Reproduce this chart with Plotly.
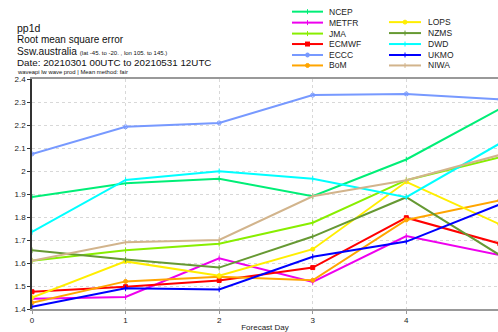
import plotly.graph_objects as go

days = [0, 1, 2, 3, 4, 5]
models = ["NCEP", "METFR", "JMA", "ECMWF", "ECCC", "BoM",
          "LOPS", "NZMS", "DWD", "UKMO", "NIWA"]
ncep  = [1.887, 1.947, 1.966, 1.890, 2.050, 2.270]
metfr = [1.445, 1.452, 1.620, 1.518, 1.717, 1.634]
jma   = [1.610, 1.655, 1.684, 1.775, 1.960, 2.060]
ecmwf = [1.475, 1.497, 1.524, 1.580, 1.797, 1.684]
eccc  = [2.074, 2.192, 2.209, 2.330, 2.335, 2.312]
bom   = [1.427, 1.520, 1.540, 1.525, 1.787, 1.872]
lops  = [1.450, 1.607, 1.545, 1.660, 1.953, 1.768]
nzms  = [1.655, 1.615, 1.580, 1.715, 1.886, 1.634]
dwd   = [1.735, 1.961, 1.999, 1.966, 1.886, 2.120]
ukmo  = [1.410, 1.490, 1.485, 1.627, 1.693, 1.855]
niwa  = [1.610, 1.690, 1.700, 1.890, 1.960, 2.070]
series = [ncep, metfr, jma, ecmwf, eccc, bom, lops, nzms, dwd, ukmo, niwa]
colors = ["#00ee77", "#ee00ee", "#88ee00", "#ff0000", "#7799ff", "#ffa500",
          "#ffee00", "#669933", "#00ffff", "#0000ff", "#d2b48c"]
symbols = ["line-ns", "line-ns", "line-ns", "square", "circle-open", "circle",
           "circle", "line-ns", "line-ns", "line-ns", "line-ns"]
msizes = [4, 4, 4, 4, 4, 4, 4, 4, 4, 4, 4]
yticks = [1.4, 1.5, 1.6, 1.7, 1.8, 1.9, 2.0, 2.1, 2.2, 2.3, 2.4]
yticklabels = ["1.4", "1.5", "1.6", "1.7", "1.8", "1.9", "2", "2.1", "2.2", "2.3", "2.4"]

W, H = 498, 332
L, T, B = 32, 78.6, 22.5
PW = W - L
PH = H - T - B

def px(x):
    return (x - L) / PW

def py(y):
    return (H - B - y) / PH

fig = go.Figure()
for name, vals, c, s, ms in zip(models, series, colors, symbols, msizes):
    fig.add_trace(go.Scatter(
        x=days, y=vals, mode="lines+markers", name=name,
        line=dict(color=c, width=2),
        marker=dict(symbol=s, size=ms, color=c, line=dict(color=c, width=1)),
        showlegend=False, cliponaxis=True))

font = "Liberation Sans, Arial, sans-serif"
shapes = []
annotations = []

# manual two-column legend
col1 = [(292, 323, 327, y) for y in [11, 22, 33, 43.5, 54.5, 65]]
col2 = [(389, 421, 426, y) for y in [21.5, 32.5, 43.5, 54.5, 65]]
pos = col1 + col2
for (x0, x1, xt, yy), name, c, s in zip(pos, models, colors, symbols):
    shapes.append(dict(type="line", xref="paper", yref="paper",
                       x0=px(x0), x1=px(x1), y0=py(yy), y1=py(yy),
                       line=dict(color=c, width=2)))
    xm = (x0 + x1) / 2
    if s == "square":
        shapes.append(dict(type="rect", xref="paper", yref="paper",
                           x0=px(xm - 2.5), x1=px(xm + 2.5), y0=py(yy - 2.5), y1=py(yy + 2.5),
                           fillcolor=c, line=dict(width=0)))
    elif s in ("circle", "circle-open"):
        shapes.append(dict(type="circle", xref="paper", yref="paper",
                           x0=px(xm - 2), x1=px(xm + 2), y0=py(yy - 2), y1=py(yy + 2),
                           fillcolor=c, line=dict(color=c, width=1)))
    else:
        shapes.append(dict(type="line", xref="paper", yref="paper",
                           x0=px(xm), x1=px(xm), y0=py(yy - 2.5), y1=py(yy + 2.5),
                           line=dict(color=c, width=1)))
    annotations.append(dict(xref="paper", yref="paper", x=px(xt), y=py(yy),
                            xanchor="left", yanchor="middle", showarrow=False,
                            text=name, font=dict(size=8.5, color="#222222", family=font)))

# titles
titles = [
    ("pp1d", 27, 10.5),
    ("Root mean square error", 39, 10),
    ("Ssw.australia <span style='font-size:6px'>(lat -45. to -20. , lon 105. to 145.)</span>", 51, 10.2),
    ("Date: 20210301 00UTC to 20210531 12UTC", 62.5, 9.8),
    ("waveapi lw wave prod | Mean method: fair", 71.5, 5.9),
]
for txt, yy, fs in titles:
    annotations.append(dict(xref="paper", yref="paper", x=px(15), y=py(yy),
                            xanchor="left", yanchor="middle", showarrow=False,
                            text=txt, font=dict(size=fs, color="#111111", family=font)))

fig.update_layout(
    width=W, height=H,
    margin=dict(l=L, r=0, t=T, b=B, pad=0),
    paper_bgcolor="white", plot_bgcolor="white",
    font=dict(family=font, size=8, color="#222222"),
    shapes=shapes, annotations=annotations,
    showlegend=False,
)
fig.update_xaxes(range=[0, 4.98], tickvals=[0, 1, 2, 3, 4], ticktext=["0", "1", "2", "3", "4"],
                 showgrid=True, gridcolor="#d8d8d8", griddash="dot", gridwidth=1,
                 showline=True, linecolor="#999999", linewidth=1.5, mirror=True,
                 ticks="outside", ticklen=3, tickcolor="#999999",
                 zeroline=False, tickfont=dict(size=8),
                 title=dict(text="Forecast Day", font=dict(size=8), standoff=2))
fig.update_yaxes(range=[1.4, 2.4], tickvals=yticks, ticktext=yticklabels,
                 showgrid=True, gridcolor="#d8d8d8", griddash="dot", gridwidth=1,
                 showline=True, linecolor="#333333", linewidth=1.5,
                 ticks="outside", ticklen=3, tickcolor="#333333",
                 zeroline=False, tickfont=dict(size=8))

fig.write_html("out.html", config={"displayModeBar": False},
               post_script="document.body.style.margin='0px';document.body.style.overflow='hidden';")
